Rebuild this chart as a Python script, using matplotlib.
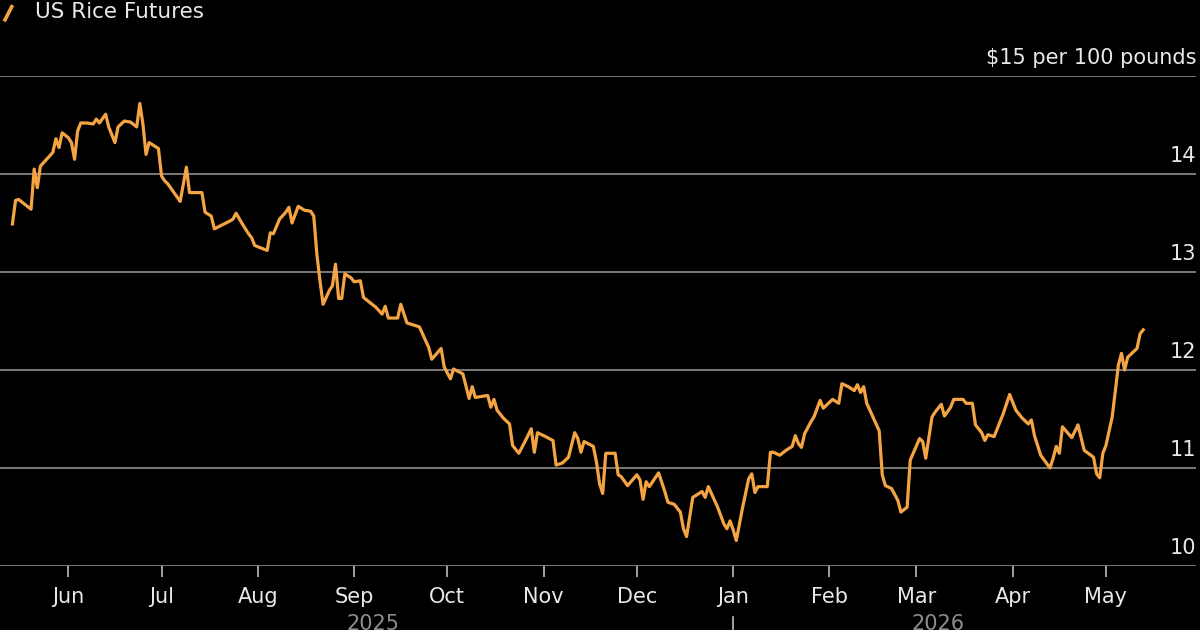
import matplotlib
matplotlib.use("Agg")
import matplotlib.pyplot as plt
import matplotlib.dates as mdates
import matplotlib.transforms as mtransforms
from matplotlib.lines import Line2D
import pandas as pd

# US rice futures, $ per 100 pounds
dates = [
    "2025-05-14", "2025-05-15", "2025-05-16", "2025-05-18", "2025-05-20", "2025-05-21", "2025-05-22",
    "2025-05-23", "2025-05-25", "2025-05-27", "2025-05-28", "2025-05-29", "2025-05-30",
    "2025-06-01", "2025-06-02", "2025-06-03", "2025-06-04", "2025-06-05", "2025-06-07", "2025-06-09",
    "2025-06-10", "2025-06-11", "2025-06-13", "2025-06-14", "2025-06-16", "2025-06-17", "2025-06-19",
    "2025-06-21", "2025-06-23", "2025-06-24", "2025-06-25", "2025-06-26", "2025-06-27", "2025-06-28",
    "2025-06-30",
    "2025-07-01", "2025-07-02", "2025-07-03", "2025-07-05", "2025-07-07", "2025-07-09", "2025-07-10",
    "2025-07-14", "2025-07-15", "2025-07-17", "2025-07-18", "2025-07-23", "2025-07-24", "2025-07-25",
    "2025-07-27", "2025-07-29", "2025-07-30", "2025-07-31",
    "2025-08-04", "2025-08-05", "2025-08-06", "2025-08-08", "2025-08-10", "2025-08-11", "2025-08-12",
    "2025-08-14", "2025-08-16", "2025-08-18", "2025-08-19", "2025-08-20", "2025-08-21", "2025-08-22",
    "2025-08-24", "2025-08-25", "2025-08-26", "2025-08-27", "2025-08-28", "2025-08-29", "2025-08-31",
    "2025-09-01", "2025-09-03", "2025-09-04", "2025-09-06", "2025-09-08", "2025-09-10", "2025-09-11",
    "2025-09-12", "2025-09-15", "2025-09-16", "2025-09-18", "2025-09-20", "2025-09-22", "2025-09-24",
    "2025-09-25", "2025-09-26", "2025-09-29", "2025-09-30",
    "2025-10-02", "2025-10-03", "2025-10-06", "2025-10-08", "2025-10-09", "2025-10-10", "2025-10-14",
    "2025-10-15", "2025-10-16", "2025-10-17", "2025-10-19", "2025-10-21", "2025-10-22", "2025-10-24",
    "2025-10-26", "2025-10-28", "2025-10-29", "2025-10-30",
    "2025-11-01", "2025-11-04", "2025-11-05", "2025-11-07", "2025-11-09", "2025-11-11", "2025-11-12",
    "2025-11-13", "2025-11-14", "2025-11-17", "2025-11-18", "2025-11-19", "2025-11-20", "2025-11-21",
    "2025-11-24", "2025-11-25", "2025-11-26", "2025-11-28",
    "2025-12-01", "2025-12-02", "2025-12-03", "2025-12-04", "2025-12-05", "2025-12-08", "2025-12-10",
    "2025-12-11", "2025-12-13", "2025-12-15", "2025-12-16", "2025-12-17", "2025-12-19", "2025-12-22",
    "2025-12-23", "2025-12-24", "2025-12-27", "2025-12-29", "2025-12-30", "2025-12-31",
    "2026-01-01", "2026-01-02", "2026-01-04", "2026-01-06", "2026-01-07", "2026-01-08", "2026-01-09",
    "2026-01-12", "2026-01-13", "2026-01-14", "2026-01-16", "2026-01-18", "2026-01-20", "2026-01-21",
    "2026-01-22", "2026-01-23", "2026-01-24", "2026-01-26", "2026-01-27", "2026-01-29", "2026-01-30",
    "2026-02-02", "2026-02-04", "2026-02-05", "2026-02-07", "2026-02-09", "2026-02-10", "2026-02-11",
    "2026-02-12", "2026-02-13", "2026-02-15", "2026-02-17", "2026-02-18", "2026-02-19", "2026-02-21",
    "2026-02-23", "2026-02-24", "2026-02-26", "2026-02-27",
    "2026-03-02", "2026-03-03", "2026-03-04", "2026-03-06", "2026-03-07", "2026-03-09", "2026-03-10",
    "2026-03-12", "2026-03-13", "2026-03-16", "2026-03-17", "2026-03-19", "2026-03-20", "2026-03-22",
    "2026-03-23", "2026-03-24", "2026-03-26", "2026-03-29", "2026-03-31",
    "2026-04-02", "2026-04-04", "2026-04-06", "2026-04-07", "2026-04-08", "2026-04-10", "2026-04-13",
    "2026-04-14", "2026-04-15", "2026-04-16", "2026-04-17", "2026-04-20", "2026-04-22", "2026-04-24",
    "2026-04-27", "2026-04-28", "2026-04-29", "2026-04-30",
    "2026-05-01", "2026-05-03", "2026-05-04", "2026-05-05", "2026-05-06", "2026-05-07", "2026-05-08",
    "2026-05-11", "2026-05-12", "2026-05-13",
]
prices = [
    13.49, 13.73, 13.74, 13.69, 13.64, 14.05, 13.86,
    14.08, 14.15, 14.22, 14.36, 14.27, 14.42,
    14.37, 14.32, 14.15, 14.44, 14.52, 14.52, 14.51,
    14.56, 14.52, 14.61, 14.48, 14.32, 14.48, 14.54,
    14.53, 14.48, 14.72, 14.51, 14.20, 14.32, 14.30,
    14.26,
    13.98, 13.93, 13.90, 13.81, 13.72, 14.07, 13.81,
    13.81, 13.61, 13.57, 13.44, 13.52, 13.54, 13.60,
    13.49, 13.39, 13.35, 13.27,
    13.22, 13.40, 13.39, 13.54, 13.61, 13.66, 13.50,
    13.67, 13.63, 13.62, 13.57, 13.18, 12.91, 12.67,
    12.81, 12.86, 13.08, 12.73, 12.73, 12.98, 12.94,
    12.90, 12.91, 12.74, 12.69, 12.64, 12.57, 12.65,
    12.53, 12.53, 12.67, 12.48, 12.46, 12.44, 12.30,
    12.23, 12.11, 12.22, 12.03,
    11.91, 12.01, 11.96, 11.71, 11.83, 11.72, 11.74,
    11.62, 11.70, 11.59, 11.51, 11.45, 11.23, 11.15,
    11.27, 11.40, 11.16, 11.36,
    11.33, 11.28, 11.03, 11.05, 11.11, 11.36, 11.30,
    11.16, 11.27, 11.22, 11.06, 10.84, 10.74, 11.15,
    11.15, 10.93, 10.91, 10.82,
    10.93, 10.88, 10.68, 10.86, 10.81, 10.95, 10.76,
    10.65, 10.63, 10.55, 10.38, 10.30, 10.70, 10.76,
    10.70, 10.81, 10.60, 10.43, 10.38, 10.46,
    10.37, 10.26, 10.59, 10.89, 10.94, 10.75, 10.81,
    10.81, 11.16, 11.16, 11.13, 11.18, 11.22, 11.33,
    11.25, 11.21, 11.35, 11.47, 11.52, 11.69, 11.61,
    11.70, 11.66, 11.86, 11.83, 11.79, 11.85, 11.77,
    11.83, 11.66, 11.52, 11.38, 10.93, 10.82, 10.79,
    10.67, 10.55, 10.60, 11.08,
    11.30, 11.27, 11.10, 11.52, 11.57, 11.65, 11.53,
    11.62, 11.70, 11.70, 11.66, 11.66, 11.44, 11.36,
    11.28, 11.34, 11.32, 11.56, 11.75,
    11.59, 11.51, 11.45, 11.49, 11.33, 11.13, 11.00,
    11.10, 11.22, 11.15, 11.42, 11.31, 11.44, 11.18,
    11.11, 10.94, 10.90, 11.15,
    11.23, 11.52, 11.78, 12.05, 12.17, 12.00, 12.13,
    12.22, 12.37, 12.41,
]
y_ticks = [10, 11, 12, 13, 14, 15]
y_labels = ["10", "11", "12", "13", "14", "$15 per 100 pounds"]
series_name = "US Rice Futures"

line_color = "#f5a443"
grid_color = "#7a7a7a"
text_color = "#e8e8e8"

d = pd.to_datetime(dates)

fig = plt.figure(figsize=(12, 6.3), dpi=100, facecolor="black")
ax = fig.add_axes([0, 0.1016, 0.9967, 0.7778], facecolor="black")

ax.plot(d, prices, color=line_color, lw=2.3, solid_joinstyle="round", zorder=3)

ax.set_ylim(10, 15)
ax.set_xlim(pd.Timestamp("2025-05-10"), pd.Timestamp("2026-05-30"))

for s in ax.spines.values():
    s.set_visible(False)

ax.set_yticks(y_ticks)
ax.tick_params(axis="y", left=False, labelleft=False)
ax.grid(axis="y", color=grid_color, lw=1.4)
ax.set_axisbelow(True)

for v, lab in zip(y_ticks, y_labels):
    ax.annotate(lab, xy=(1.0, v), xycoords=("axes fraction", "data"),
                xytext=(0, 12), textcoords="offset pixels",
                ha="right", va="baseline", color=text_color, fontsize=15)

ax.xaxis.set_major_locator(mdates.MonthLocator())
ax.xaxis.set_major_formatter(mdates.DateFormatter("%b"))
ax.tick_params(axis="x", length=8, width=1.2, color="#bdbdbd", pad=7,
               labelsize=15, labelcolor=text_color)

# year labels centered under each year's data, with divider at the year change
trans = mtransforms.blended_transform_factory(ax.transData, ax.transAxes)
years = d.year
for yr in sorted(set(years)):
    dd = d[years == yr]
    lo = dd.min()
    hi = dd.max() if yr == years.max() else pd.Timestamp(f"{yr + 1}-01-01")
    mid = lo + (hi - lo) / 2
    ax.text(mid, -0.098, str(yr), transform=trans, ha="center", va="top",
            color="#8c8c8c", fontsize=15, clip_on=False)
new_year = pd.Timestamp("2026-01-01")
ax.plot([new_year, new_year], [-0.105, -0.14], transform=trans, color="#bdbdbd",
        lw=1.2, clip_on=False)

# legend
fig.add_artist(Line2D([0.0035, 0.0105], [0.966, 0.992], transform=fig.transFigure,
                      color=line_color, lw=2.6, solid_capstyle="butt"))
fig.text(0.029, 0.981, series_name, color=text_color, fontsize=15.5, ha="left", va="center")

fig.savefig("out.png", dpi=100, facecolor="black")
